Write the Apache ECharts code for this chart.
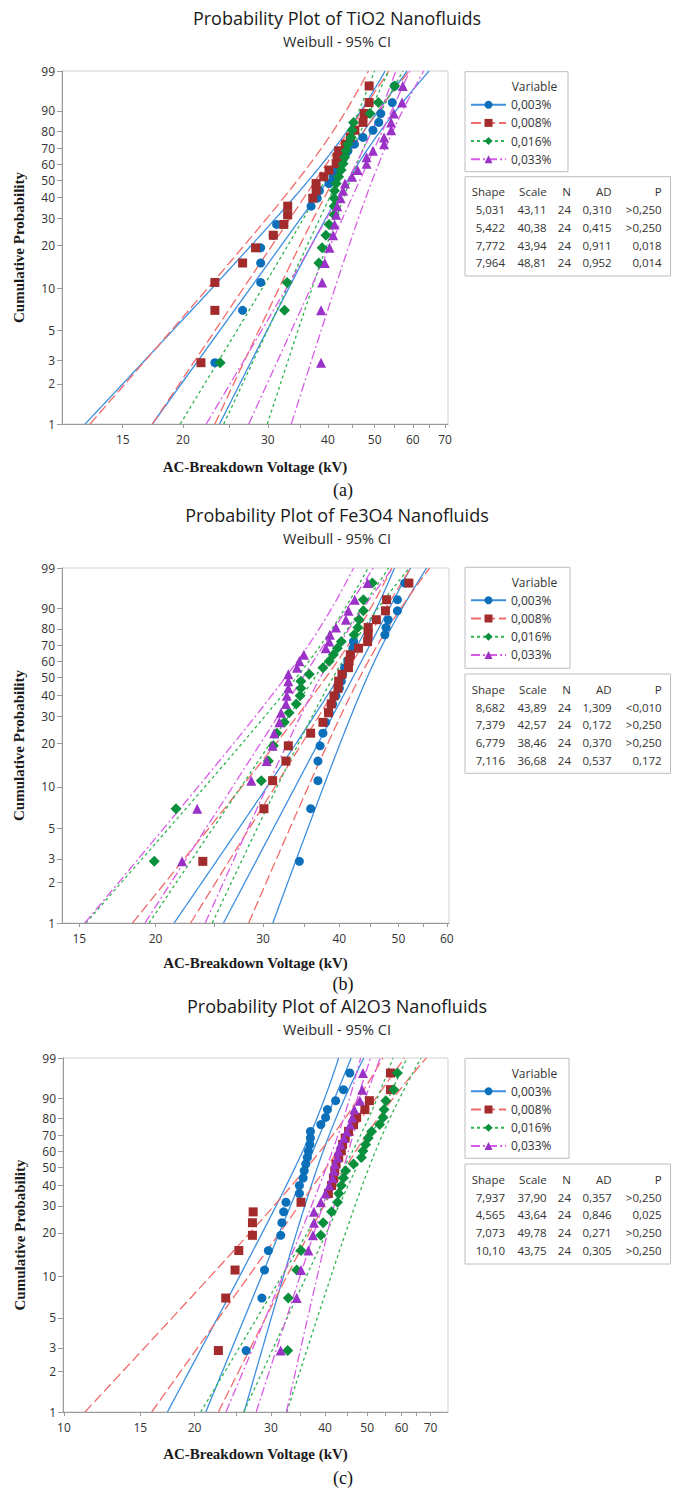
<!DOCTYPE html>
<html><head><meta charset="utf-8">
<script src="https://cdn.jsdelivr.net/npm/echarts@6/dist/echarts.min.js"></script>
<style>html,body{margin:0;padding:0;background:#fff}#c{width:674px;height:1488px}</style>
</head><body><div id="c"></div>
<script>
// ---------------- DATA ----------------
const variables = ['0,003%', '0,008%', '0,016%', '0,033%'];
// median ranks (Bernard) in %, for n = 24
const medianRanks = [2.87, 6.97, 11.07, 15.16, 19.26, 23.36, 27.46, 31.56, 35.66, 39.75, 43.85, 47.95,
  52.05, 56.15, 60.25, 64.34, 68.44, 72.54, 76.64, 80.74, 84.84, 88.93, 93.03, 97.13];
const probTicks = [1, 2, 3, 5, 10, 20, 30, 40, 50, 60, 70, 80, 90, 99];

const titles = ['Probability Plot of TiO2 Nanofluids', 'Probability Plot of Fe3O4 Nanofluids', 'Probability Plot of Al2O3 Nanofluids'];
const subTitle = 'Weibull - 95% CI';
const panelLabels = ['(a)', '(b)', '(c)'];

const xTicksA = [15, 20, 30, 40, 50, 60, 70];
const xTicksB = [15, 20, 30, 40, 50, 60];
const xTicksC = [10, 15, 20, 30, 40, 50, 60, 70];
const xMinorA = [25, 35, 45, 55, 65];
const xMinorB = [25, 35, 45, 55];
const xMinorC = [25, 35, 45, 55, 65];
const xRangeA = [11.22, 71.0];
const xRangeB = [14.05, 60.5];
const xRangeC = [9.95, 76.8];

// TiO2 breakdown voltages (kV), sorted
const tio2_003 = [23.3, 26.6, 29.0, 29.0, 29.0, 30.8, 31.3, 33.0, 36.9, 38.0, 38.4, 40.2, 41.0, 41.8, 42.5, 43.2, 44.0, 45.4, 47.3, 49.6, 51.0, 51.5, 54.4, 55.0];
const tio2_008 = [21.8, 23.3, 23.3, 26.6, 28.3, 30.8, 32.4, 33.0, 33.0, 37.2, 37.8, 37.8, 39.2, 40.2, 41.6, 41.8, 42.1, 43.5, 44.5, 45.5, 47.3, 47.6, 48.7, 48.7];
const tio2_016 = [23.9, 32.5, 32.9, 38.3, 38.9, 39.6, 40.2, 41.2, 41.2, 41.2, 41.3, 41.6, 42.1, 42.6, 43.0, 43.3, 43.6, 44.0, 44.7, 44.9, 45.2, 48.9, 50.9, 55.0];
const tio2_033 = [38.7, 38.7, 38.9, 39.4, 40.3, 41.0, 41.3, 41.6, 41.8, 42.5, 43.0, 43.4, 44.9, 46.1, 48.1, 48.1, 49.6, 52.3, 52.3, 54.1, 54.1, 54.8, 57.0, 57.2];
// Fe3O4
const fe_003 = [34.4, 35.9, 36.9, 36.9, 37.2, 37.6, 38.0, 38.5, 39.0, 39.5, 40.0, 40.3, 40.5, 40.8, 41.3, 41.7, 42.1, 42.2, 47.5, 47.7, 48.1, 49.8, 49.8, 51.2];
const fe_008 = [23.9, 30.1, 31.1, 32.7, 33.0, 35.9, 37.6, 38.4, 38.8, 39.2, 39.8, 39.9, 40.4, 41.4, 41.5, 41.7, 43.0, 44.5, 44.6, 44.6, 46.0, 47.6, 47.8, 52.0];
const fe_016 = [19.9, 21.6, 29.8, 30.6, 31.2, 31.6, 32.5, 33.1, 34.0, 34.5, 34.6, 34.6, 35.7, 37.6, 38.5, 39.1, 39.7, 40.3, 42.3, 42.9, 43.1, 43.8, 43.8, 45.3];
const fe_033 = [22.1, 23.4, 28.7, 30.4, 31.1, 31.3, 31.9, 32.1, 32.7, 32.8, 33.0, 33.0, 33.0, 34.1, 34.4, 35.0, 38.0, 38.5, 38.6, 39.5, 41.0, 41.4, 42.4, 44.5];
// Al2O3
const al_003 = [26.3, 28.6, 29.0, 29.6, 31.6, 31.8, 32.1, 32.5, 34.9, 34.9, 35.6, 35.8, 36.1, 36.4, 36.6, 36.9, 37.0, 37.0, 39.1, 40.1, 40.5, 42.3, 44.1, 45.6];
const al_008 = [22.7, 23.6, 24.8, 25.3, 27.2, 27.2, 27.3, 35.2, 40.7, 41.4, 41.8, 42.1, 42.4, 43.0, 43.6, 43.9, 44.5, 45.3, 46.5, 47.3, 49.4, 50.6, 56.6, 56.6];
const al_016 = [32.8, 32.9, 34.4, 35.2, 39.1, 39.6, 41.4, 42.7, 43.0, 43.6, 44.1, 44.6, 46.5, 48.5, 48.9, 49.6, 50.3, 51.2, 53.4, 54.4, 54.7, 55.2, 57.6, 58.7];
const al_033 = [31.6, 34.4, 35.2, 36.6, 37.5, 37.7, 37.7, 39.1, 40.1, 40.9, 41.6, 41.9, 42.1, 42.7, 42.9, 43.4, 44.2, 44.9, 45.7, 46.2, 46.7, 48.1, 48.7, 48.9];

// statistics tables
const tableHeader = ['Shape', 'Scale', 'N', 'AD', 'P'];
const tio2Shape = ['5,031', '5,422', '7,772', '7,964'];
const tio2Scale = ['43,11', '40,38', '43,94', '48,81'];
const tio2N = ['24', '24', '24', '24'];
const tio2AD = ['0,310', '0,415', '0,911', '0,952'];
const tio2P = ['>0,250', '>0,250', '0,018', '0,014'];
const feShape = ['8,682', '7,379', '6,779', '7,116'];
const feScale = ['43,89', '42,57', '38,46', '36,68'];
const feN = ['24', '24', '24', '24'];
const feAD = ['1,309', '0,172', '0,370', '0,537'];
const feP = ['<0,010', '>0,250', '>0,250', '0,172'];
const alShape = ['7,937', '4,565', '7,073', '10,10'];
const alScale = ['37,90', '43,64', '49,78', '43,75'];
const alN = ['24', '24', '24', '24'];
const alAD = ['0,357', '0,846', '0,271', '0,305'];
const alP = ['>0,250', '0,025', '>0,250', '>0,250'];

// ---------------- STYLES / LAYOUT ----------------
const markerColors = ['#0b6fba', '#a32b2b', '#0a8f3c', '#9a32c8'];
const lineColors = ['#3d8fe0', '#f26b6b', '#2fb34f', '#d95ce8'];
const lineDash = ['solid', [10, 4], [3, 3], [9, 3, 2, 3]];
const symbols = ['circle', 'rect', 'diamond', 'triangle'];
const symbolSizes = [9, 9, 11, 10];

const panels = [
  { grid: { left: 62, top: 71, width: 386, height: 353 }, xRange: xRangeA, xTicks: xTicksA, xMinor: xMinorA,
    series: [tio2_003, tio2_008, tio2_016, tio2_033], table: [tio2Shape, tio2Scale, tio2N, tio2AD, tio2P],
    titleTop: 8, legendTop: 71.7, legendH: 100, legendW: 103, tableTop: 176.7, tableH: 99.3, nameGap: 35, labelY: 490 },
  { grid: { left: 62, top: 568, width: 387, height: 355 }, xRange: xRangeB, xTicks: xTicksB, xMinor: xMinorB,
    series: [fe_003, fe_008, fe_016, fe_033], table: [feShape, feScale, feN, feAD, feP],
    titleTop: 505, legendTop: 567.3, legendH: 101, legendW: 105, tableTop: 674, tableH: 99.3, nameGap: 32, labelY: 984 },
  { grid: { left: 63, top: 1058, width: 385, height: 354 }, xRange: xRangeC, xTicks: xTicksC, xMinor: xMinorC,
    series: [al_003, al_008, al_016, al_033], table: [alShape, alScale, alN, alAD, alP],
    titleTop: 996, legendTop: 1058.3, legendH: 100, legendW: 104, tableTop: 1164, tableH: 100, nameGap: 34.5, labelY: 1478 }
];

// ---------------- HELPERS ----------------
const W = p => Math.log(-Math.log(1 - p));          // Weibull probability scale
const invW = v => 100 * (1 - Math.exp(-Math.exp(v)));
const num = s => parseFloat(s.replace(',', '.'));
const Z95 = 1.959964, NOBS = 24;
const wLo = W(0.01), wHi = W(0.99);
function pctLn(shape, scale, w) { return Math.log(scale) + w / shape; }
function ciLn(shape, scale, w, sign) {
  const b = 1 / shape;
  const v = b * b / NOBS * (1.1087 - 2 * 0.2570 * w + 0.6079 * w * w);
  return pctLn(shape, scale, w) + sign * Z95 * Math.sqrt(v);
}
const wSteps = [];
for (let i = 0; i <= 80; i++) wSteps.push(wLo + (wHi - wLo) * i / 80);

const FONT = 'Open Sans';
const axisGray = '#9a9a9a';

const option = {
  animation: false,
  backgroundColor: '#ffffff',
  title: [], grid: [], xAxis: [], yAxis: [], series: [], legend: [], graphic: { elements: [] }
};

panels.forEach((P, pi) => {
  option.title.push({
    text: titles[pi], subtext: subTitle, left: 'center', top: P.titleTop, padding: 0, itemGap: 4,
    textStyle: { fontFamily: FONT, fontSize: 18, fontWeight: 'normal', color: '#1a1a1a', lineHeight: 20 },
    subtextStyle: { fontFamily: FONT, fontSize: 14.5, color: '#2a2a2a', lineHeight: 18 }
  });
  option.grid.push(Object.assign({ show: true, borderColor: '#cfcfcf', borderWidth: 1, containLabel: false }, P.grid));
  const majorX = P.xTicks.map(Math.log);
  const allX = P.xTicks.concat(P.xMinor).map(Math.log);
  option.xAxis.push({
    type: 'value', gridIndex: pi, min: Math.log(P.xRange[0]), max: Math.log(P.xRange[1]),
    name: 'AC-Breakdown Voltage (kV)', nameLocation: 'middle', nameGap: P.nameGap,
    nameTextStyle: { fontFamily: 'Liberation Serif', fontWeight: 'bold', fontSize: 15, color: '#1a1a1a' },
    axisLine: { show: true, onZero: false, lineStyle: { color: axisGray, width: 1 } },
    axisTick: { show: true, customValues: allX, length: 4, lineStyle: { color: axisGray } },
    axisLabel: { customValues: majorX, formatter: v => String(Math.round(Math.exp(v))), fontFamily: FONT, fontSize: 12, color: '#333', margin: 9 },
    splitLine: { show: false }
  });
  const yt = probTicks.map(p => W(p / 100));
  option.yAxis.push({
    type: 'value', gridIndex: pi, min: wLo, max: wHi,
    name: 'Cumulative Probability', nameLocation: 'middle', nameGap: 36, nameRotate: 90,
    nameTextStyle: { fontFamily: 'Liberation Serif', fontWeight: 'bold', fontSize: 15, color: '#1a1a1a' },
    axisLine: { show: true, onZero: false, lineStyle: { color: axisGray, width: 1 } },
    axisTick: { show: true, customValues: yt, length: 5, lineStyle: { color: axisGray } },
    axisLabel: { customValues: yt, formatter: v => String(Math.round(invW(v))), fontFamily: FONT, fontSize: 12, color: '#333', margin: 7 },
    splitLine: { show: false }
  });
  // fitted lines + CI bands
  P.series.forEach((vals, vi) => {
    const shape = num(P.table[0][vi]), scale = num(P.table[1][vi]);
    const ls = { color: lineColors[vi], width: 1.3, type: lineDash[vi] };
    option.series.push({
      type: 'line', name: variables[vi], xAxisIndex: pi, yAxisIndex: pi, z: 2, silent: true,
      symbol: symbols[vi], showSymbol: false, symbolSize: symbolSizes[vi],
      itemStyle: { color: markerColors[vi] }, lineStyle: ls,
      data: [[pctLn(shape, scale, wLo), wLo], [pctLn(shape, scale, wHi), wHi]]
    });
    [-1, 1].forEach(sg => {
      option.series.push({
        type: 'line', name: variables[vi] + ' CI', xAxisIndex: pi, yAxisIndex: pi, z: 2, silent: true,
        symbol: 'none', smooth: false, itemStyle: { color: lineColors[vi] }, lineStyle: ls,
        data: wSteps.map(w => [ciLn(shape, scale, w, sg), w])
      });
    });
  });
  // data points
  P.series.forEach((vals, vi) => {
    option.series.push({
      type: 'scatter', name: variables[vi] + ' data', xAxisIndex: pi, yAxisIndex: pi, z: 4, silent: true,
      symbol: symbols[vi], symbolSize: symbolSizes[vi], itemStyle: { color: markerColors[vi], opacity: 1 },
      data: vals.map((v, i) => [Math.log(v), W(medianRanks[i] / 100)])
    });
  });
  // legend
  option.legend.push({
    data: variables, orient: 'vertical', left: 470, top: P.legendTop + 26, padding: 0,
    itemWidth: 35, itemHeight: 10, itemGap: 4.2, selectedMode: false,
    textStyle: { fontFamily: FONT, fontSize: 12, color: '#333', lineHeight: 14 }
  });
  const g = option.graphic.elements;
  g.push({ type: 'rect', shape: { x: 465, y: P.legendTop, width: P.legendW, height: P.legendH },
    style: { fill: 'none', stroke: '#bdbdbd', lineWidth: 1 } });
  g.push({ type: 'text', x: 511.7, y: P.legendTop + 15, style: { text: 'Variable', fontFamily: FONT, fontSize: 12, fill: '#333', verticalAlign: 'middle', align: 'left' } });
  g.push({ type: 'rect', shape: { x: 465, y: P.tableTop, width: 205.5, height: P.tableH },
    style: { fill: 'none', stroke: '#bdbdbd', lineWidth: 1 } });
  const colRight = [505, 546.7, 571, 611.7, 661.7];
  const rowOff = [15, 33, 50.8, 68.3, 86];
  tableHeader.forEach((h, ci) => {
    g.push({ type: 'text', x: colRight[ci], y: P.tableTop + rowOff[0],
      style: { text: h, fontFamily: FONT, fontSize: 11.5, fill: '#333', align: 'right', verticalAlign: 'middle' } });
    P.table[ci].forEach((cell, ri) => {
      g.push({ type: 'text', x: colRight[ci], y: P.tableTop + rowOff[ri + 1],
        style: { text: cell, fontFamily: FONT, fontSize: 11.5, fill: '#333', align: 'right', verticalAlign: 'middle' } });
    });
  });
  g.push({ type: 'text', x: 343, y: P.labelY, style: { text: panelLabels[pi], fontFamily: 'Liberation Serif', fontSize: 18, fill: '#111', align: 'center', verticalAlign: 'middle' } });
});

const chart = echarts.init(document.getElementById('c'), null, { renderer: 'svg', width: 674, height: 1488 });
chart.setOption(option);
</script>
</body></html>
